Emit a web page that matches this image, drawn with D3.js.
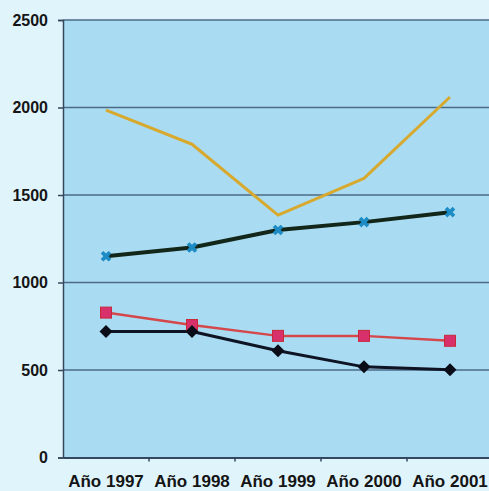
<!DOCTYPE html>
<html><head><meta charset="utf-8">
<script src="https://cdn.jsdelivr.net/npm/d3@7"></script>
<style>
html,body{margin:0;padding:0;background:#e0f4fb;overflow:hidden;}
svg{display:block;}
</style></head>
<body>
<svg id="c" width="489" height="491"></svg>
<script>
const categories = ["Año 1997","Año 1998","Año 1999","Año 2000","Año 2001"];
const yellowSeries = [1985, 1790, 1385, 1595, 2060];
const xSeries = [1150, 1200, 1300, 1345, 1402];
const squareSeries = [828, 757, 695, 695, 667];
const diamondSeries = [720, 720, 610, 518, 502];
const yTicks = [0, 500, 1000, 1500, 2000, 2500];

const svg = d3.select("#c");
const pL = 63, pR = 493, pT = 20, pB = 457.5;
const x = d3.scaleBand().domain(categories).range([pL, pR]);
const y = d3.scaleLinear().domain([0, 2500]).range([pB, pT]);
const cx = d => x(d) + x.bandwidth() / 2;

svg.append("rect").attr("x", pL).attr("y", pT)
  .attr("width", pR - pL).attr("height", pB - pT)
  .attr("fill", "#a9dcf3");

svg.append("g").selectAll("line").data(yTicks.filter(t => t > 0)).join("line")
  .attr("x1", pL).attr("x2", pR)
  .attr("y1", d => y(d)).attr("y2", d => y(d))
  .attr("stroke", "#4d6a88").attr("stroke-width", 1.5);

const ya = svg.append("g").attr("transform", `translate(${pL},0)`)
  .call(d3.axisLeft(y).tickValues(yTicks).tickFormat(d3.format("d")).tickSize(5).tickPadding(10));
ya.select(".domain").attr("stroke", "#33475e").attr("stroke-width", 1.5);
ya.selectAll(".tick line").attr("stroke", "#33475e").attr("stroke-width", 1.5);
ya.selectAll("text").attr("font-family", "Liberation Sans, Arial, sans-serif")
  .attr("font-size", 16).attr("font-weight", "bold").attr("fill", "#151515");

const xa = svg.append("g").attr("transform", `translate(0,${pB})`)
  .call(d3.axisBottom(x).tickSize(0).tickPadding(17));
xa.select(".domain").attr("stroke", "#33475e").attr("stroke-width", 2);
xa.selectAll("text").attr("font-family", "Liberation Sans, Arial, sans-serif")
  .attr("font-size", 17).attr("font-weight", "bold").attr("fill", "#151515");
svg.append("g").selectAll("line").data(categories.slice(1)).join("line")
  .attr("x1", d => x(d)).attr("x2", d => x(d))
  .attr("y1", pB).attr("y2", pB + 4)
  .attr("stroke", "#33475e").attr("stroke-width", 1.5);

const line = d3.line().x((d, i) => cx(categories[i])).y(d => y(d));

function drawLine(data, color, w) {
  svg.append("path").datum(data).attr("d", line)
    .attr("fill", "none").attr("stroke", color).attr("stroke-width", w)
    .attr("stroke-linejoin", "round");
}

drawLine(yellowSeries, "#d7a92e", 3);
drawLine(xSeries, "#13261a", 4);
drawLine(squareSeries, "#d4474a", 2.5);
drawLine(diamondSeries, "#0e1424", 3);

const g = svg.append("g");
g.selectAll(".xm").data(xSeries).join("path")
  .attr("transform", (d, i) => `translate(${cx(categories[i])},${y(d)}) rotate(45)`)
  .attr("d", d3.symbol(d3.symbolCross, 70)())
  .attr("fill", "#1d8cc4");
g.selectAll(".sq").data(squareSeries).join("rect")
  .attr("x", (d, i) => cx(categories[i]) - 5.5).attr("y", d => y(d) - 5.5)
  .attr("width", 11).attr("height", 11)
  .attr("fill", "#d7306a").attr("stroke", "#c8283a").attr("stroke-width", 1);
g.selectAll(".dm").data(diamondSeries).join("path")
  .attr("transform", (d, i) => `translate(${cx(categories[i])},${y(d)}) rotate(45)`)
  .attr("d", d3.symbol(d3.symbolSquare, 85)())
  .attr("fill", "#0a0d18");
</script>
</body></html>
